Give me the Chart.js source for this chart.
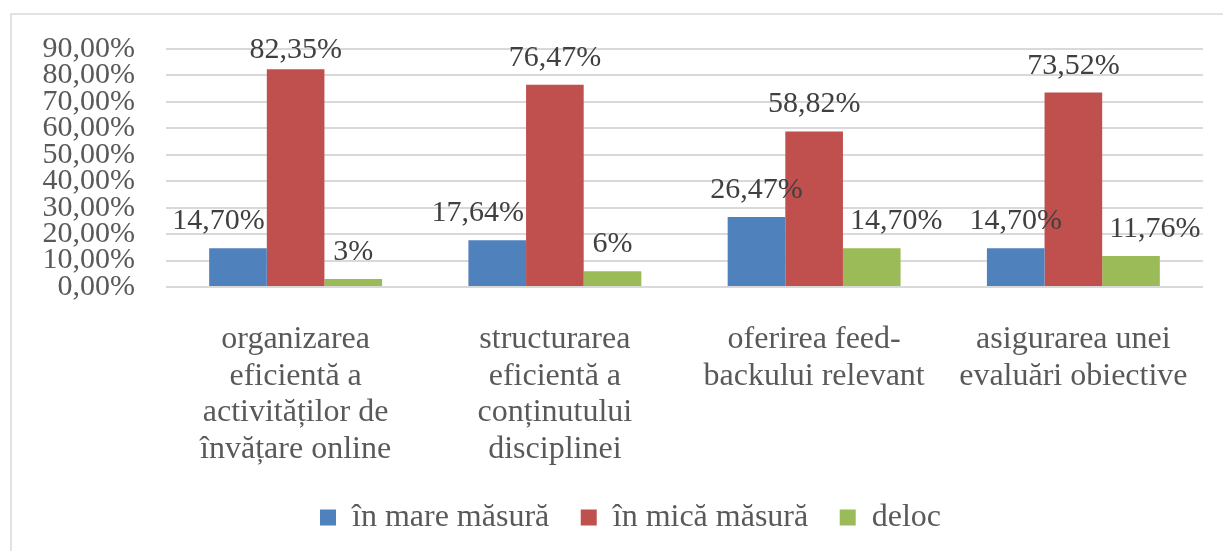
<!DOCTYPE html>
<html>
<head>
<meta charset="utf-8">
<script src="https://cdn.jsdelivr.net/npm/chart.js@4"></script>
<style>
  html, body { margin: 0; padding: 0; background: #fff; }
  #wrap { width: 1223px; height: 551px; position: relative; }
</style>
</head>
<body>
<div id="wrap"><canvas id="chart"></canvas></div>
<script>
// --- data ---
const categories = [
    ['organizarea', 'eficientă a', 'activităților de', 'învățare online'],
    ['structurarea', 'eficientă a', 'conținutului', 'disciplinei'],
    ['oferirea feed-', 'backului relevant'],
    ['asigurarea unei', 'evaluări obiective']
];
const seriesNames = ['în mare măsură', 'în mică măsură', 'deloc'];
const mareMasura = [14.70, 17.64, 26.47, 14.70];
const micaMasura = [82.35, 76.47, 58.82, 73.52];
const deloc = [3, 6, 14.70, 11.76];
// labels as printed on the chart
const mareLabels = ['14,70%', '17,64%', '26,47%', '14,70%'];
const micaLabels = ['82,35%', '76,47%', '58,82%', '73,52%'];
const delocLabels = ['3%', '6%', '14,70%', '11,76%'];

const colors = ['#4F81BD', '#C0504D', '#9BBB59'];
const serif = '"Liberation Serif", "Times New Roman", serif';

// how each value label sits over its bar (Excel nudges some sideways)
const labelAlign = [
    ['right', 'right', 'center', 'center'],
    ['center', 'center', 'center', 'center'],
    ['center', 'center', 'left', 'left']
];

// outer frame like the Excel chart area
const framePlugin = {
    id: 'frame',
    beforeDraw(chart) {
        const ctx = chart.ctx;
        ctx.save();
        ctx.strokeStyle = '#d9d9d9';
        ctx.lineWidth = 1.5;
        ctx.strokeRect(11, 14, 1300, 700);
        ctx.restore();
    },
    // legend in the reference is centred a bit right of the canvas middle
    afterLayout(chart) {
        chart.legend.left = 58;
        chart.legend.right = chart.chartArea.right;
    }
};

// value labels above the bars
const valueLabels = {
    id: 'valueLabels',
    afterDatasetsDraw(chart) {
        const ctx = chart.ctx;
        ctx.save();
        ctx.font = '30px ' + serif;
        ctx.fillStyle = '#404040';
        ctx.textBaseline = 'alphabetic';
        ctx.textAlign = 'left';
        chart.data.datasets.forEach((ds, di) => {
            chart.getDatasetMeta(di).data.forEach((bar, i) => {
                const text = ds.printed[i];
                const w = ctx.measureText(text).width;
                const half = bar.width / 2;
                let x;
                const a = labelAlign[di][i];
                if (a === 'right') x = bar.x + half - 2 - w;
                else if (a === 'left') x = bar.x - half + 7;
                else x = bar.x - w / 2;
                let y = bar.y - 19;
                if (y < 58) y = 58;
                ctx.fillText(text, x, y);
            });
        });
        ctx.restore();
    }
};

const chart = new Chart(document.getElementById('chart'), {
    type: 'bar',
    data: {
        labels: categories,
        datasets: [
            { label: seriesNames[0], data: mareMasura, printed: mareLabels, backgroundColor: colors[0] },
            { label: seriesNames[1], data: micaMasura, printed: micaLabels, backgroundColor: colors[1] },
            { label: seriesNames[2], data: deloc, printed: delocLabels, backgroundColor: colors[2] }
        ]
    },
    options: {
        responsive: true,
        maintainAspectRatio: false,
        animation: false,
        datasets: {
            bar: { categoryPercentage: 0.667, barPercentage: 1, borderWidth: 0 }
        },
        layout: { padding: { top: 45, left: 0, right: 20, bottom: 7.5 } },
        plugins: {
            tooltip: { enabled: false },
            legend: {
                position: 'bottom',
                labels: {
                    font: { family: serif, size: 32 },
                    color: '#595959',
                    boxWidth: 16,
                    boxHeight: 16,
                    padding: 31.5
                }
            }
        },
        scales: {
            x: {
                grid: { display: false },
                border: { display: false },
                ticks: {
                    autoSkip: false,
                    maxRotation: 0,
                    minRotation: 0,
                    padding: 26,
                    color: '#595959',
                    font: { family: serif, size: 32, lineHeight: 1.15 }
                },
                afterFit(scale) { scale.height = 183; }
            },
            y: {
                min: 0,
                max: 90,
                border: { display: false },
                grid: { color: '#d9d9d9', lineWidth: 2, drawTicks: false },
                ticks: {
                    stepSize: 10,
                    autoSkip: false,
                    padding: 31,
                    color: '#595959',
                    font: { family: serif, size: 30 },
                    callback: v => v.toFixed(2).replace('.', ',') + '%'
                },
                afterFit(scale) { scale.width = 166; }
            }
        }
    },
    plugins: [framePlugin, valueLabels]
});
</script>
</body>
</html>
